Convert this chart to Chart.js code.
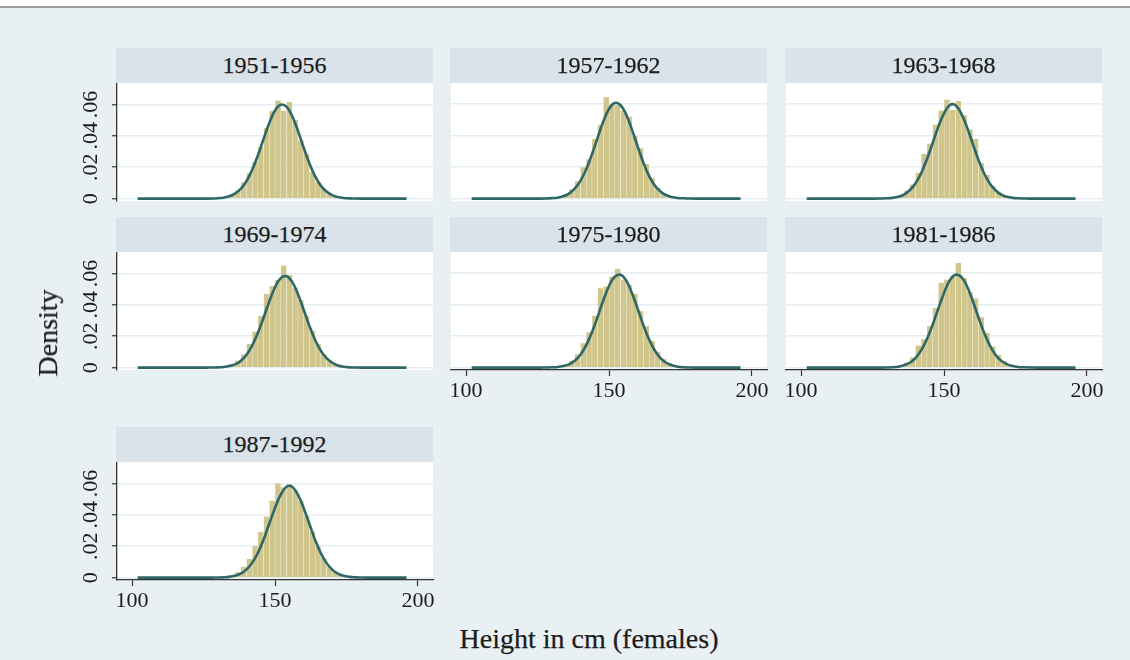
<!DOCTYPE html>
<html>
<head>
<meta charset="utf-8">
<title>Height in cm (females) by birth cohort</title>
<script src="https://cdn.jsdelivr.net/npm/chart.js@4.4.1/dist/chart.umd.min.js"></script>
<style>
  html, body { margin: 0; padding: 0; background: #ffffff; }
  #frame {
    position: absolute; left: 0; top: 6px; width: 1130px; height: 654px;
    background: #e9f0f3; border-top: 2px solid #9c9c9c; box-sizing: border-box;
  }
  .panel-head {
    position: absolute; height: 35px; background: #d9e3e9; z-index: 2;
    font: 24px "Liberation Serif", "Times New Roman", serif; color: #1c1c1c;
    text-align: center; line-height: 35px; -webkit-text-stroke: 0.25px #1c1c1c;
  }
  canvas { position: absolute; z-index: 1; }
  .axis-title {
    position: absolute; z-index: 3; white-space: nowrap;
    font: 28px "Liberation Serif", "Times New Roman", serif; color: #1c1c1c;
    -webkit-text-stroke: 0.25px #1c1c1c;
    transform: translate(-50%, -50%);
  }
</style>
</head>
<body>
<div id="frame"></div>
<div id="stage"></div>
<div class="axis-title" style="left:48px; top:333px; transform: translate(-50%, -50%) rotate(-90deg);">Density</div>
<div class="axis-title" style="left:589px; top:639px;">Height in cm (females)</div>

<script>
// Birth cohorts, one panel each
const cohorts = ["1951-1956", "1957-1962", "1963-1968", "1969-1974", "1975-1980", "1981-1986", "1987-1992"];

// Axis ticks
const xTicks = [100, 150, 200];
const yTicks = [0, 0.02, 0.04, 0.06];
const yTickLabels = ["0", ".02", ".04", ".06"];

// Histogram bin centres (cm), 2 cm bins
const binX = [103, 105, 107, 109, 111, 113, 115, 117, 119, 121, 123, 125,
              127, 129, 131, 133, 135, 137, 139, 141, 143, 145, 147, 149,
              151, 153, 155, 157, 159, 161, 163, 165, 167, 169, 171, 173,
              175, 177, 179, 181, 183, 185, 187, 189, 191, 193, 195, 197];

// Histogram densities per cohort
const hist5156 = [.0002, 0, 0, .0001, 0, 0, .0001, 0, .0001, .0001, .0001, .0002,
                  .0002, .0003, .0006, .0012, .0025, .0050, .0105, .0165, .0235, .0330, .0450, .0560,
                  .0625, .0560, .0615, .0500, .0370, .0285, .0170, .0105, .0060, .0030, .0016, .0008,
                  .0004, .0002, .0001, .0001, .0001, .0001, 0, 0, .0001, 0, .0001, .0003];
const hist5762 = [0, 0, .0001, 0, 0, .0001, 0, 0, .0001, .0001, .0001, .0002,
                  .0003, .0004, .0007, .0014, .0030, .0060, .0110, .0200, .0250, .0380, .0470, .0645,
                  .0600, .0595, .0560, .0520, .0400, .0320, .0220, .0130, .0070, .0035, .0016, .0008,
                  .0004, .0002, .0001, .0001, 0, .0001, 0, 0, .0001, 0, .0001, 0];
const hist6368 = [0, 0, 0, 0, .0001, 0, 0, .0001, 0, .0003, .0001, .0002,
                  .0002, .0003, .0006, .0011, .0025, .0050, .0090, .0165, .0285, .0350, .0470, .0560,
                  .0630, .0565, .0620, .0530, .0440, .0380, .0225, .0150, .0080, .0040, .0018, .0008,
                  .0004, .0002, .0002, .0006, .0001, .0001, 0, 0, .0001, 0, 0, 0];
const hist6974 = [.0002, 0, 0, .0002, 0, 0, .0002, 0, .0001, 0, .0001, .0002,
                  .0002, .0003, .0005, .0010, .0021, .0045, .0085, .0150, .0230, .0330, .0470, .0520,
                  .0560, .0650, .0590, .0510, .0430, .0330, .0235, .0150, .0085, .0045, .0022, .0010,
                  .0005, .0002, .0001, .0001, 0, 0, .0001, 0, 0, .0001, 0, .0002];
const hist7580 = [0, 0, 0, .0002, 0, 0, 0, .0001, 0, .0001, .0001, .0002,
                  .0002, .0003, .0005, .0010, .0022, .0045, .0085, .0155, .0225, .0330, .0505, .0515,
                  .0580, .0628, .0560, .0525, .0470, .0360, .0265, .0170, .0100, .0055, .0028, .0012,
                  .0005, .0002, .0002, .0002, .0002, .0001, 0, .0001, 0, 0, 0, 0];
const hist8186 = [0, .0001, 0, 0, 0, .0001, 0, 0, .0001, 0, .0002, .0002,
                  .0002, .0003, .0004, .0008, .0016, .0032, .0065, .0140, .0180, .0265, .0380, .0540,
                  .0560, .0580, .0665, .0570, .0480, .0440, .0320, .0220, .0135, .0080, .0042, .0020,
                  .0010, .0004, .0002, .0002, .0001, 0, .0001, 0, 0, 0, 0, 0];
const hist8792 = [.0002, 0, 0, 0, .0002, 0, .0002, 0, .0001, 0, 0, 0,
                  .0001, .0002, .0004, .0008, .0017, .0035, .0068, .0120, .0200, .0290, .0390, .0490,
                  .0600, .0575, .0595, .0560, .0490, .0395, .0295, .0200, .0125, .0070, .0037, .0017,
                  .0008, .0003, .0002, .0001, 0, .0002, 0, .0002, 0, 0, 0, 0];

// Fitted normal density, sampled along height (cm)
const curveX = [102, 112, 120, 126,
                128, 130, 132, 134, 136, 138, 140, 142, 144, 146, 148, 150, 152, 154,
                156, 158, 160, 162, 164, 166, 168, 170, 172, 174, 176, 178, 180,
                186, 196];
const curve5156 = [0, 0, 0, 0,
                   .0001, .0003, .0006, .0015, .0032, .0062, .0111, .0182, .0275, .0380, .0482, .0561, .0598, .0586,
                   .0526, .0433, .0326, .0226, .0143, .0083, .0045, .0022, .0010, .0004, .0002, .0001, 0,
                   0, 0];
const curve5762 = [0, 0, 0, 0,
                   .0001, .0003, .0006, .0015, .0032, .0063, .0113, .0185, .0280, .0386, .0490, .0570, .0608, .0595,
                   .0535, .0440, .0332, .0230, .0145, .0084, .0046, .0022, .0010, .0004, .0002, .0001, 0,
                   0, 0];
const curve6368 = [0, 0, 0, 0,
                   .0001, .0002, .0005, .0012, .0026, .0053, .0096, .0161, .0249, .0352, .0456, .0542, .0594, .0594,
                   .0542, .0456, .0352, .0249, .0161, .0096, .0053, .0026, .0012, .0005, .0002, .0001, 0,
                   0, 0];
const curve6974 = [0, 0, 0, 0,
                   .0001, .0002, .0004, .0010, .0021, .0043, .0081, .0140, .0220, .0318, .0421, .0512, .0570, .0582,
                   .0546, .0469, .0370, .0267, .0178, .0108, .0060, .0031, .0014, .0006, .0002, .0001, 0,
                   0, 0];
const curve7580 = [0, 0, 0, 0,
                   .0001, .0002, .0004, .0010, .0021, .0044, .0082, .0142, .0223, .0322, .0427, .0519, .0578, .0590,
                   .0554, .0475, .0375, .0271, .0180, .0110, .0061, .0031, .0015, .0006, .0002, .0001, 0,
                   0, 0];
const curve8186 = [0, 0, 0, 0,
                   0, .0001, .0002, .0006, .0015, .0031, .0061, .0110, .0180, .0271, .0375, .0475, .0554, .0590,
                   .0578, .0519, .0427, .0322, .0223, .0142, .0082, .0044, .0022, .0010, .0004, .0002, .0001,
                   0, 0];
const curve8792 = [0, 0, 0, 0,
                   0, .0001, .0002, .0005, .0012, .0026, .0051, .0094, .0157, .0242, .0343, .0444, .0528, .0579,
                   .0579, .0528, .0444, .0343, .0242, .0157, .0094, .0051, .0026, .0012, .0005, .0002, .0001,
                   0, 0];

const histograms = [hist5156, hist5762, hist6368, hist6974, hist7580, hist8186, hist8792];
const curves = [curve5156, curve5762, curve6368, curve6974, curve7580, curve8186, curve8792];

// ---- layout of the 3-column facet grid ----
const colLeft = [117, 451, 786];
const rowTop = [83, 252, 462];
const plotW = 316, plotH = 118;
const headH = 35;
const padLeft = 60, padTop = 20, padRight = 12, padBottom = 50;

const serif = '"Liberation Serif", "Times New Roman", serif';
const inkColor = '#1c1c1c';
const axisColor = '#333333';
const gridColor = '#e6edf1';

const plotBg = {
  id: 'plotBg',
  beforeDraw(chart) {
    const { ctx, chartArea: a } = chart;
    ctx.save();
    ctx.fillStyle = '#ffffff';
    ctx.fillRect(a.left, a.top, a.right - a.left, a.bottom - a.top);
    ctx.restore();
  }
};

const stage = document.getElementById('stage');

cohorts.forEach((name, k) => {
  const col = k % 3;
  const row = Math.floor(k / 3);
  const hasY = col === 0;
  // x axis shown where no panel sits below
  const hasX = (row === 1 && col > 0) || row === 2;

  const left = colLeft[col], top = rowTop[row];

  const head = document.createElement('div');
  head.className = 'panel-head';
  head.style.left = (left - 1) + 'px';
  head.style.top = (top - headH) + 'px';
  head.style.width = (plotW + 1) + 'px';
  head.textContent = name;
  stage.appendChild(head);

  const cv = document.createElement('canvas');
  const cw = plotW + padLeft + padRight, ch = plotH + padTop + padBottom;
  cv.width = cw; cv.height = ch;
  cv.style.width = cw + 'px'; cv.style.height = ch + 'px';
  cv.style.left = (left - padLeft) + 'px';
  cv.style.top = (top - padTop) + 'px';
  stage.appendChild(cv);

  const hist = histograms[k], curve = curves[k];

  new Chart(cv, {
    type: 'bar',
    data: {
      datasets: [
        {
          type: 'line',
          data: curveX.map((x, i) => ({ x: x, y: curve[i] })),
          borderColor: '#2e6767',
          borderWidth: 2.6,
          pointRadius: 0,
          tension: 0.4,
          fill: false,
          order: 0
        },
        {
          type: 'bar',
          data: binX.map((x, i) => ({ x: x, y: hist[i] })),
          backgroundColor: '#d0c58a',
          borderColor: 'rgba(255,255,255,0.3)',
          borderWidth: { left: 0.6, right: 0, top: 0, bottom: 0 },
          borderSkipped: false,
          barPercentage: 1,
          categoryPercentage: 1,
          order: 1
        }
      ]
    },
    options: {
      responsive: false,
      animation: false,
      events: [],
      layout: { padding: { left: 0, top: padTop, right: padRight, bottom: 0 } },
      plugins: { legend: { display: false }, tooltip: { enabled: false } },
      scales: {
        x: {
          type: 'linear',
          min: 94.75,
          max: 205.25,
          offset: false,
          afterBuildTicks: s => { s.ticks = xTicks.map(v => ({ value: v })); },
          afterFit: s => { s.height = padBottom; },
          ticks: {
            display: hasX,
            autoSkip: false,
            maxRotation: 0,
            padding: 2,
            color: inkColor,
            font: { family: serif, size: 22 },
            callback: v => String(v)
          },
          grid: {
            display: hasX,
            offset: false,
            drawOnChartArea: false,
            drawTicks: true,
            tickLength: 6,
            tickColor: axisColor,
            tickWidth: 1.2
          },
          border: { display: hasX, color: axisColor, width: 1.3 }
        },
        y: {
          type: 'linear',
          min: -0.0015,
          max: 0.0735,
          afterBuildTicks: s => { s.ticks = yTicks.map(v => ({ value: v })); },
          afterFit: s => { s.width = padLeft; },
          ticks: {
            display: hasY,
            autoSkip: false,
            minRotation: 90,
            maxRotation: 90,
            crossAlign: 'center',
            padding: 7,
            color: inkColor,
            font: { family: serif, size: 22 },
            callback: (v, i) => yTickLabels[i]
          },
          grid: {
            color: gridColor,
            lineWidth: 1.5,
            drawTicks: hasY,
            tickLength: 5,
            tickColor: axisColor,
            tickWidth: 1.2
          },
          border: { display: hasY, color: axisColor, width: 1.3 }
        }
      }
    },
    plugins: [plotBg]
  });
});
</script>
</body>
</html>
